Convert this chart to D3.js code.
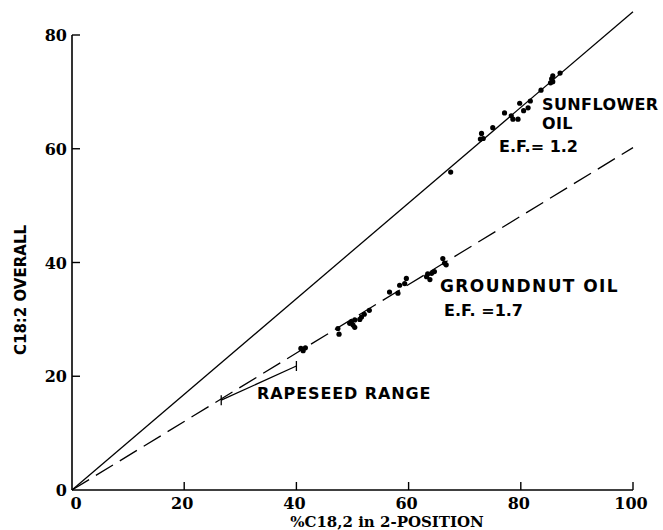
<!DOCTYPE html>
<html>
<head>
  <meta charset="utf-8">
  <title>C18:2 overall vs 2-position</title>
  <script src="https://d3js.org/d3.v7.min.js"></script>
  <style>
    body { margin: 0; background: #fff; }
    .tick-label { font-family: "DejaVu Serif", serif; font-weight: bold; font-size: 16px; }
    .note { font-family: "DejaVu Sans", sans-serif; font-weight: bold; }
  </style>
</head>
<body>
  <svg width="663" height="530"></svg>

  <script>
    // values (% C18:2 in 2-position, % C18:2 overall)
    const sunflower = [
      [87.0, 73.3], [85.7, 72.8], [85.5, 72.3], [85.3, 71.6], [85.7, 71.8],
      [83.6, 70.3], [81.7, 68.4], [79.8, 68.0], [81.3, 67.2], [80.5, 66.7],
      [77.1, 66.3], [78.3, 65.8], [78.6, 65.2], [79.5, 65.2], [75.0, 63.7],
      [73.0, 62.7], [72.8, 61.7], [73.3, 61.8], [67.5, 55.9]
    ];
    const groundnut = [
      [66.1, 40.7], [66.4, 39.9], [66.7, 39.6], [64.6, 38.4], [64.1, 38.1],
      [63.4, 38.0], [63.2, 37.5], [63.8, 37.0], [59.6, 37.2], [59.3, 36.3],
      [58.4, 36.0], [56.6, 34.8], [58.1, 34.6], [53.0, 31.6], [52.1, 30.9],
      [51.6, 30.4], [51.3, 30.0], [50.4, 29.9], [49.8, 29.6], [49.5, 29.3],
      [50.1, 29.0], [50.4, 28.6], [47.4, 28.4], [47.6, 27.4], [40.8, 24.9],
      [41.6, 25.0], [41.2, 24.5]
    ];
    const sunflowerFit = [[0, 0], [100, 84.1]];   // E.F. = 1.2
    const groundnutFit = [[0, 0], [100, 60.2]];   // E.F. = 1.7
    const rapeseedRange = [[26.6, 15.8], [40.0, 21.8]];
    const xTicks = [0, 20, 40, 60, 80, 100];
    const yTicks = [0, 20, 40, 60, 80];

    const svg = d3.select("svg");
    const x = d3.scaleLinear().domain([0, 100]).range([72, 633]);
    const y = d3.scaleLinear().domain([0, 80]).range([490, 35]);

    // axes drawn by hand: ticks point inward like the original
    svg.append("line").attr("x1", x(0)).attr("x2", x(100)).attr("y1", y(0)).attr("y2", y(0))
      .attr("stroke", "#000").attr("stroke-width", 1.6);
    svg.append("line").attr("x1", x(0)).attr("x2", x(0)).attr("y1", y(0)).attr("y2", y(80))
      .attr("stroke", "#000").attr("stroke-width", 1.6);

    svg.selectAll(".xt").data(xTicks.slice(1)).join("line")
      .attr("x1", d => x(d)).attr("x2", d => x(d))
      .attr("y1", y(0)).attr("y2", y(0) - 8)
      .attr("stroke", "#000").attr("stroke-width", 1.4);
    svg.selectAll(".yt").data(yTicks.slice(1)).join("line")
      .attr("x1", x(0)).attr("x2", x(0) + 8)
      .attr("y1", d => y(d)).attr("y2", d => y(d))
      .attr("stroke", "#000").attr("stroke-width", 1.4);

    svg.selectAll(".xl").data(xTicks).join("text")
      .attr("class", "tick-label")
      .attr("x", d => x(d) + (d === 0 ? 4 : -2)).attr("y", 509)
      .attr("text-anchor", "middle")
      .text(d => d);
    svg.selectAll(".yl").data(yTicks).join("text")
      .attr("class", "tick-label")
      .attr("x", x(0) - 5).attr("y", d => y(d) + 6)
      .attr("text-anchor", "end")
      .text(d => d);

    svg.append("text")
      .attr("x", 387).attr("y", 527)
      .attr("text-anchor", "middle")
      .attr("font-family", "DejaVu Serif").attr("font-weight", "bold").attr("font-size", 15)
      .text("%C18,2 in 2-POSITION");
    svg.append("text")
      .attr("transform", "translate(26,290) rotate(-90)")
      .attr("text-anchor", "middle")
      .attr("font-family", "DejaVu Sans").attr("font-weight", "bold").attr("font-size", 15)
      .text("C18:2 OVERALL");

    // fitted lines
    const line = d3.line().x(d => x(d[0])).y(d => y(d[1]));
    svg.append("path").datum(sunflowerFit).attr("d", line)
      .attr("fill", "none").attr("stroke", "#000").attr("stroke-width", 1.3);
    svg.append("path").datum(groundnutFit).attr("d", line)
      .attr("fill", "none").attr("stroke", "#000").attr("stroke-width", 1.3)
      .attr("stroke-dasharray", "20,8");

    // rapeseed range bracket
    svg.append("path").datum(rapeseedRange).attr("d", line)
      .attr("fill", "none").attr("stroke", "#000").attr("stroke-width", 1.3);
    svg.selectAll(".rt").data(rapeseedRange).join("line")
      .attr("x1", d => x(d[0])).attr("x2", d => x(d[0]))
      .attr("y1", d => y(d[1]) - 5).attr("y2", d => y(d[1]) + 5)
      .attr("stroke", "#000").attr("stroke-width", 1.3);

    // data points
    svg.selectAll(".sf").data(sunflower).join("circle")
      .attr("cx", d => x(d[0])).attr("cy", d => y(d[1])).attr("r", 2.6).attr("fill", "#000");
    svg.selectAll(".gn").data(groundnut).join("circle")
      .attr("cx", d => x(d[0])).attr("cy", d => y(d[1])).attr("r", 2.6).attr("fill", "#000");

    // annotations
    const notes = [
      { t: "SUNFLOWER", x: 542, y: 110, s: 16, ls: 0.4 },
      { t: "OIL", x: 542, y: 129, s: 16, ls: 0.4 },
      { t: "E.F.= 1.2", x: 499, y: 152, s: 16, ls: 0 },
      { t: "GROUNDNUT OIL", x: 440, y: 292, s: 17, ls: 1.4 },
      { t: "E.F. =1.7", x: 444, y: 316, s: 16, ls: 0 },
      { t: "RAPESEED RANGE", x: 257, y: 399, s: 16, ls: 0.9 }
    ];
    svg.selectAll(".note").data(notes).join("text")
      .attr("class", "note")
      .attr("x", d => d.x).attr("y", d => d.y)
      .attr("font-size", d => d.s)
      .attr("letter-spacing", d => d.ls)
      .text(d => d.t);
  </script>
</body>
</html>
